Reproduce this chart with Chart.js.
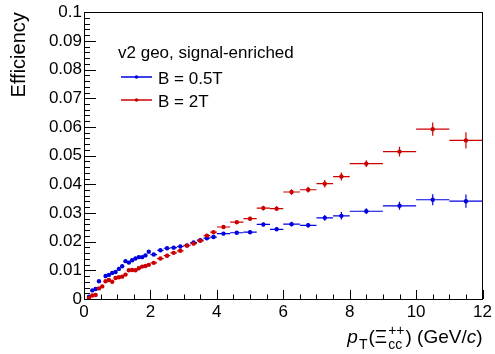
<!DOCTYPE html>
<html>
<head>
<meta charset="utf-8">
<script src="https://cdn.jsdelivr.net/npm/chart.js@4.4.1/dist/chart.umd.min.js"></script>
<style>
html, body { margin: 0; padding: 0; background: #fff; }
canvas { display: block; }
</style>
</head>
<body>
<canvas id="eff" width="495" height="354"></canvas>
<script>
// pT bin centres and half widths (GeV/c)
const ptBins = [0.15, 0.25, 0.35, 0.45, 0.55, 0.65, 0.75, 0.85, 0.95, 1.05,
                1.15, 1.25, 1.35, 1.45, 1.55, 1.65, 1.75, 1.85, 1.95,
                2.1, 2.3, 2.5, 2.7, 2.9, 3.1, 3.3, 3.5, 3.7, 3.9,
                4.2, 4.6, 5.0, 5.4, 5.8,
                6.25, 6.75, 7.25, 7.75,
                8.5, 9.5, 10.5, 11.5];
const ptHalf = [0.05, 0.05, 0.05, 0.05, 0.05, 0.05, 0.05, 0.05, 0.05, 0.05,
                0.05, 0.05, 0.05, 0.05, 0.05, 0.05, 0.05, 0.05, 0.05,
                0.1, 0.1, 0.1, 0.1, 0.1, 0.1, 0.1, 0.1, 0.1, 0.1,
                0.2, 0.2, 0.2, 0.2, 0.2,
                0.25, 0.25, 0.25, 0.25,
                0.5, 0.5, 0.5, 0.5];

// B = 0.5T
const effB05 = [0.0008, 0.0030, 0.0035, 0.0062, null, 0.0080, 0.0084, 0.0091, 0.0094, 0.0105,
                0.0114, 0.0132, 0.0127, 0.0135, 0.0141, 0.0146, 0.0146, 0.0152, 0.0165,
                0.0155, 0.0170, 0.0177, 0.0179, 0.0183, 0.0187, 0.0197, 0.0205, 0.0212, 0.0216,
                0.0228, 0.0231, 0.0233, 0.0260, 0.0243,
                0.0261, 0.0257, 0.0283, 0.0290,
                0.0306, 0.0325, 0.0346, 0.0341];
const errB05 = [0.0003, 0.0003, 0.0003, 0.0003, 0.0003, 0.0003, 0.0003, 0.0003, 0.0003, 0.0003,
                0.0003, 0.0003, 0.0003, 0.0003, 0.0003, 0.0003, 0.0003, 0.0003, 0.0003,
                0.0004, 0.0004, 0.0004, 0.0004, 0.0004, 0.0004, 0.0004, 0.0004, 0.0004, 0.0004,
                0.0006, 0.0006, 0.0006, 0.0006, 0.0006,
                0.0008, 0.0008, 0.0010, 0.0013,
                0.0010, 0.0014, 0.0019, 0.0023];

// B = 2T
const effB2 = [0.0004, 0.0012, 0.0014, 0.0037, 0.0044, 0.0062, 0.0066, 0.0060, 0.0073, 0.0076,
               0.0078, 0.0085, 0.0100, 0.0101, 0.0100, 0.0107, 0.0113, 0.0115, 0.0119,
               0.0126, 0.0141, 0.0151, 0.0161, 0.0168, 0.0186, 0.0193, 0.0203, 0.0221, 0.0233,
               0.0251, 0.0268, 0.0280, 0.0317, 0.0315,
               0.0373, 0.0381, 0.0402, 0.0427,
               0.0472, 0.0514, 0.0592, 0.0553];
const errB2 = [0.0003, 0.0003, 0.0003, 0.0003, 0.0003, 0.0003, 0.0003, 0.0003, 0.0003, 0.0003,
               0.0003, 0.0003, 0.0003, 0.0003, 0.0003, 0.0003, 0.0003, 0.0003, 0.0003,
               0.0004, 0.0004, 0.0004, 0.0004, 0.0004, 0.0004, 0.0004, 0.0004, 0.0004, 0.0004,
               0.0007, 0.0007, 0.0007, 0.0008, 0.0008,
               0.0010, 0.0010, 0.0013, 0.0014,
               0.0012, 0.0017, 0.0023, 0.0028];

const legendTitle = 'v2 geo, signal-enriched';
const seriesNames = ['B = 0.5T', 'B = 2T'];
const blue = '#0000e0';
const red = '#cc0000';
const FONT = '"Liberation Sans", Arial, Helvetica, sans-serif';

function points(eff, err) {
    var out = [];
    ptBins.forEach(function(x, i) {
        if (eff[i] != null) {
            out.push({x: x, y: eff[i], xe: ptHalf[i], ye: err[i]});
        }
    });
    return out;
}

// horizontal / vertical error bars, drawn just before each dataset's markers
const errorBars = {
    id: 'errorBars',
    beforeDatasetDraw: function(chart, args) {
        const ds = chart.data.datasets[args.index];
        const xs = chart.scales.x, ys = chart.scales.y;
        const ctx = chart.ctx;
        ctx.save();
        ctx.strokeStyle = ds.borderColor;
        ctx.lineWidth = 1.2;
        ds.data.forEach(function(p) {
            const px = xs.getPixelForValue(p.x), py = ys.getPixelForValue(p.y);
            ctx.beginPath();
            ctx.moveTo(xs.getPixelForValue(p.x - p.xe), py);
            ctx.lineTo(xs.getPixelForValue(p.x + p.xe), py);
            ctx.moveTo(px, ys.getPixelForValue(p.y - p.ye));
            ctx.lineTo(px, ys.getPixelForValue(p.y + p.ye));
            ctx.stroke();
        });
        ctx.restore();
    }
};

// ROOT-like frame with inward ticks, titles and legend
const rootFrame = {
    id: 'rootFrame',
    afterDraw: function(chart) {
        const ctx = chart.ctx;
        const a = chart.chartArea;
        const xs = chart.scales.x, ys = chart.scales.y;
        ctx.save();
        ctx.strokeStyle = '#000';
        ctx.lineWidth = 1;
        ctx.strokeRect(Math.round(a.left) + 0.5, Math.round(a.top) + 0.5,
                       Math.round(a.right - a.left) - 1, Math.round(a.bottom - a.top));
        ctx.beginPath();
        for (var i = 0; i <= 50; i++) {
            var yp = Math.round(ys.getPixelForValue(i * 0.002)) + 0.5;
            var len = (i % 5 == 0) ? 12 : 6;
            ctx.moveTo(a.left, yp);
            ctx.lineTo(a.left + len, yp);
        }
        for (var j = 0; j <= 24; j++) {
            var xp = Math.round(xs.getPixelForValue(j * 0.5)) + 0.5;
            var l2 = (j % 4 == 0) ? 9 : 4.5;
            ctx.moveTo(xp, a.bottom);
            ctx.lineTo(xp, a.bottom - l2);
        }
        ctx.stroke();

        // y title
        ctx.fillStyle = '#000';
        ctx.save();
        ctx.translate(24.5, a.top);
        ctx.rotate(-Math.PI / 2);
        ctx.font = '20px ' + FONT;
        ctx.textAlign = 'right';
        ctx.textBaseline = 'alphabetic';
        ctx.fillText('Efficiency', 0, 0);
        ctx.restore();

        // x title: p_T(Xi_cc^++) (GeV/c)
        const big = '19px ' + FONT, bigI = 'italic 19px ' + FONT, small = '14px ' + FONT;
        const pieces = [
            {t: 'p', f: bigI},
            {t: 'T', f: small, dy: 6},
            {t: '(\u039E', f: big},
            {t: 'cc', f: small, dy: 6, up: '++'},
            {t: ') (GeV/', f: big},
            {t: 'c', f: bigI},
            {t: ')', f: big}
        ];
        var total = 0;
        pieces.forEach(function(p) {
            ctx.font = p.f;
            var w = ctx.measureText(p.t).width;
            if (p.up) { w = Math.max(w, ctx.measureText(p.up).width); }
            p.w = w + (p.f == small ? 2 : 0);
            total += p.w;
        });
        var x = a.right - total, base = 343;
        ctx.textAlign = 'left';
        pieces.forEach(function(p) {
            ctx.font = p.f;
            ctx.fillText(p.t, x + (p.f == small ? 1 : 0), base + (p.dy || 0));
            if (p.up) { ctx.fillText(p.up, x + 1, base - 8); }
            x += p.w;
        });

        // legend
        ctx.font = '17px ' + FONT;
        ctx.fillText(legendTitle, 118, 58);
        [[blue, 77], [red, 100]].forEach(function(e, k) {
            ctx.strokeStyle = e[0];
            ctx.lineWidth = 1.5;
            ctx.beginPath();
            ctx.moveTo(121, e[1]);
            ctx.lineTo(152, e[1]);
            ctx.stroke();
            ctx.fillStyle = e[0];
            ctx.beginPath();
            ctx.arc(136.5, e[1], 1.8, 0, 2 * Math.PI);
            ctx.fill();
            ctx.fillStyle = '#000';
            ctx.fillText(seriesNames[k], 158, e[1] + 6.5);
        });
        ctx.restore();
    }
};

const ctx = document.getElementById('eff').getContext('2d');
new Chart(ctx, {
    type: 'scatter',
    data: {
        datasets: [{
            label: seriesNames[0],
            data: points(effB05, errB05),
            borderColor: blue,
            backgroundColor: blue,
            pointRadius: 2.2,
            pointBorderWidth: 0,
            order: 1
        }, {
            label: seriesNames[1],
            data: points(effB2, errB2),
            borderColor: red,
            backgroundColor: red,
            pointRadius: 2.2,
            pointBorderWidth: 0,
            order: 0
        }]
    },
    plugins: [errorBars, rootFrame],
    options: {
        responsive: false,
        animation: false,
        layout: {padding: {top: 12, right: 11, left: 0, bottom: 0}},
        plugins: {legend: {display: false}, tooltip: {enabled: false}},
        scales: {
            x: {
                type: 'linear',
                min: 0,
                max: 12,
                grid: {display: false, drawTicks: false},
                border: {display: false},
                ticks: {
                    stepSize: 2,
                    maxRotation: 0,
                    autoSkip: false,
                    padding: 3,
                    color: '#000',
                    font: {family: FONT, size: 17}
                },
                afterFit: function(scale) { scale.height = 55; }
            },
            y: {
                min: 0,
                max: 0.1,
                grid: {display: false, drawTicks: false},
                border: {display: false},
                ticks: {
                    stepSize: 0.01,
                    autoSkip: false,
                    padding: 2,
                    color: '#000',
                    font: {family: FONT, size: 17},
                    callback: function(v) { return String(Number(v.toFixed(3))); }
                },
                afterFit: function(scale) { scale.width = 84; }
            }
        }
    }
});
</script>
</body>
</html>
